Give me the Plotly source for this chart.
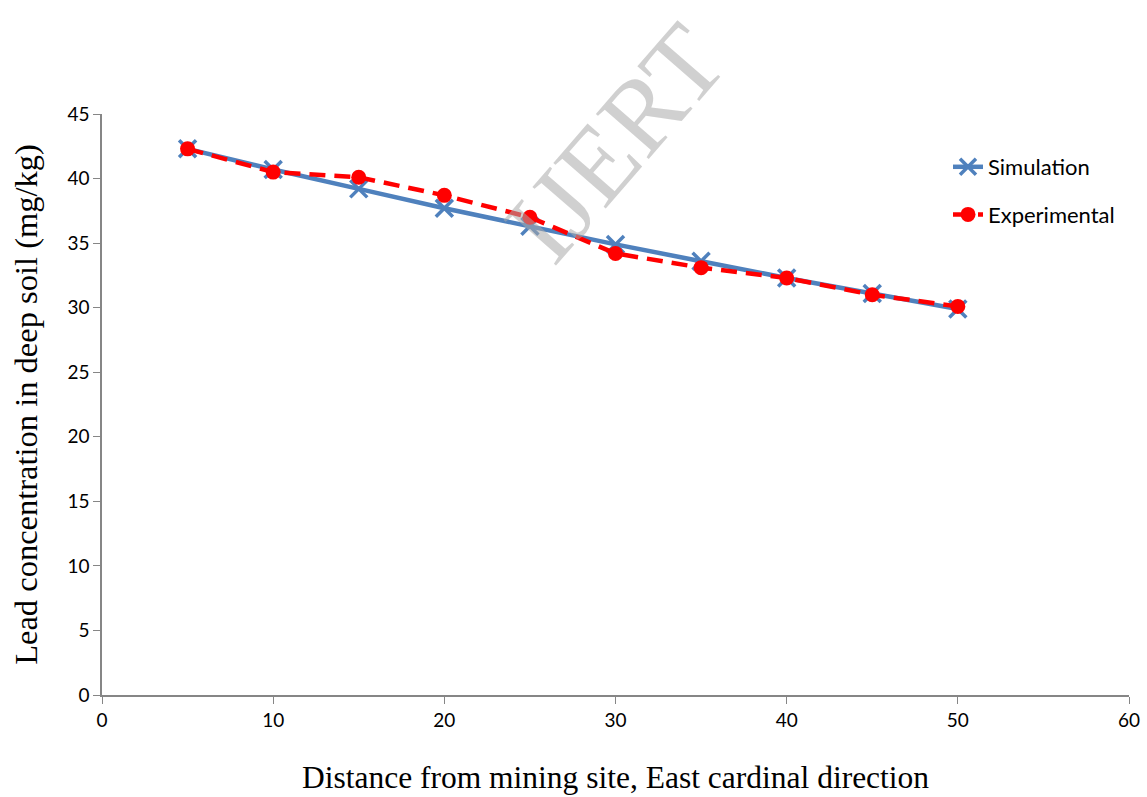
import plotly.graph_objects as go

distance = [5, 10, 15, 20, 25, 30, 35, 40, 45, 50]
simulation = [42.3, 40.7, 39.2, 37.7, 36.3, 34.9, 33.6, 32.3, 31.1, 29.9]
experimental = [42.3, 40.5, 40.1, 38.7, 37.0, 34.2, 33.1, 32.3, 31.0, 30.1]

x_ticks = [0, 10, 20, 30, 40, 50, 60]
y_ticks = [0, 5, 10, 15, 20, 25, 30, 35, 40, 45]

L, R, T, B = 102, 18, 114, 102
W, H = 1147, 797
PW, PH = W - L - R, H - T - B

fig = go.Figure()
fig.add_trace(go.Scatter(
    x=distance, y=simulation, name="Simulation", mode="lines+markers",
    legendgroup="sim",
    line=dict(color="#4F81BD", width=4.5),
    marker=dict(symbol="x-thin", size=17, line=dict(color="#4F81BD", width=3.5)),
))
fig.add_trace(go.Scatter(
    x=distance, y=experimental, name="Experimental", mode="lines+markers",
    legendgroup="exp",
    line=dict(color="#FF0000", width=4.5, dash="16px,9px"),
    marker=dict(symbol="circle", size=15, color="#FF0000"),
))

fig.add_annotation(
    x=(615 - L) / PW, y=(H - B - 143) / PH, xref="paper", yref="paper",
    xanchor="center", yanchor="middle", text="IJERT", showarrow=False,
    textangle=-49,
    font=dict(family="Liberation Serif", size=106, color="rgba(170,170,170,0.55)"),
)

fig.update_layout(
    width=W, height=H,
    margin=dict(l=L, r=R, t=T, b=B, autoexpand=False),
    plot_bgcolor="white", paper_bgcolor="white",
    showlegend=True,
    legend=dict(
        x=(948 - L) / PW, y=(H - B - 146) / PH, xanchor="left", yanchor="top",
        font=dict(family="Lato, Open Sans, sans-serif", size=22, color="black"),
        bgcolor="rgba(0,0,0,0)", traceorder="grouped", tracegroupgap=16,
    ),
    xaxis=dict(
        range=[0, 60], tickvals=x_ticks, ticktext=[str(v) for v in x_ticks],
        showgrid=False, zeroline=False, showline=True, linecolor="#868686", linewidth=1.5,
        ticks="outside", ticklen=7, tickcolor="#868686",
        tickfont=dict(family="Lato, Open Sans, sans-serif", size=19, color="black"),
        title=dict(text="Distance from mining site, East cardinal direction",
                   font=dict(family="Liberation Serif", size=31.5, color="black"), standoff=36),
    ),
    yaxis=dict(
        range=[0, 45], tickvals=y_ticks, ticktext=[str(v) for v in y_ticks],
        showgrid=False, zeroline=False, showline=True, linecolor="#868686", linewidth=1.5,
        ticks="outside", ticklen=7, tickcolor="#868686",
        tickfont=dict(family="Lato, Open Sans, sans-serif", size=19, color="black"),
        title=dict(text="Lead concentration in deep soil (mg/kg)",
                   font=dict(family="Liberation Serif", size=32.5, color="black"), standoff=20),
    ),
)

fig.write_html("out.html")
